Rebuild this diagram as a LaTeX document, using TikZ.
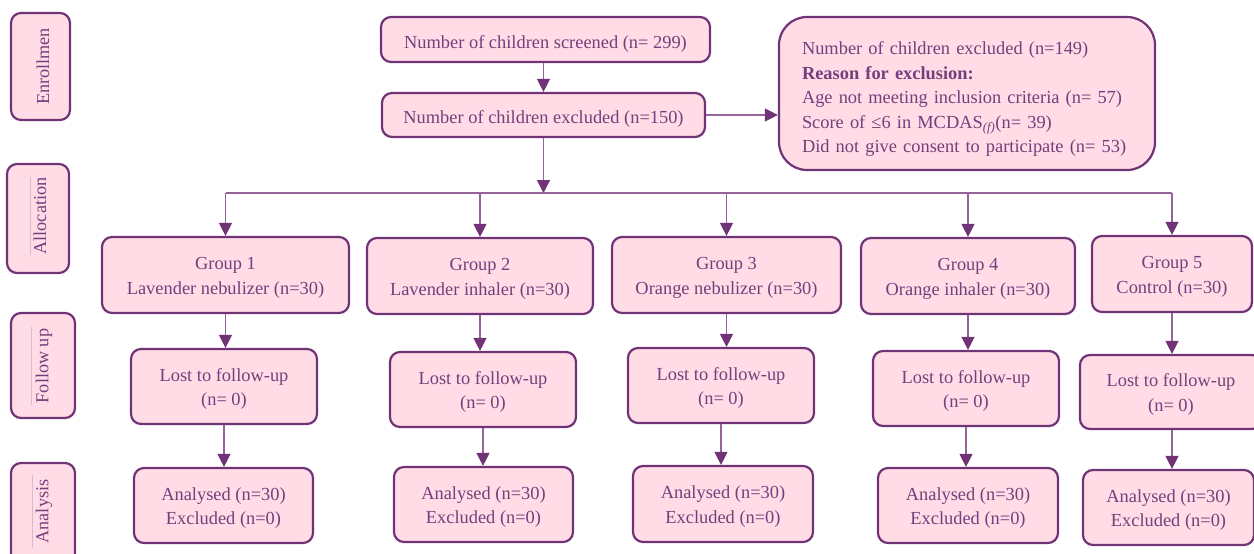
\documentclass[tikz,border=0pt]{standalone}
\usepackage{fontspec}
\setmainfont{Liberation Serif}
\usetikzlibrary{arrows.meta,calc}
\definecolor{boxfill}{RGB}{255,220,230}
\definecolor{boxdraw}{RGB}{112,52,118}
\definecolor{txt}{RGB}{118,62,124}
\definecolor{conn}{RGB}{150,100,155}
\definecolor{faint}{RGB}{210,190,210}
\newcommand\bx[6]{\node[box, minimum width={#4-#2}, minimum height={#5-#3}] (#1) at ({(#2+#4)/2},{(#3+#5)/2}) {#6};}
\newcommand\fl{\rule{0pt}{18pt}}
\begin{document}
\begin{tikzpicture}[x=1pt,y=-1pt,
  box/.style={draw=boxdraw, line width=2.2pt, fill=boxfill, rounded corners=10pt, text=txt, align=center,
    font=\fontsize{18.4}{24.5}\selectfont, inner sep=0pt},
  sidetext/.style={text=txt, font=\fontsize{18.2}{22}\selectfont, rotate=90, inner sep=0pt},
  arr/.style={draw=conn, line width=1.3pt, -{Triangle[width=13pt,length=13pt,color=boxdraw]}},
  conline/.style={draw=conn, line width=1.3pt},
  faintline/.style={draw=faint, line width=0.6pt}]
\useasboundingbox (0,0) rectangle (1254,554);
\clip (0,0) rectangle (1254,554);
% side labels
\bx{sEnr}{11}{13}{70}{120}{}
\bx{sAll}{7}{164}{69}{273}{}
\bx{sFol}{11}{313}{75}{418}{}
\bx{sAna}{11}{463}{75}{580}{}
\node[sidetext] (tEnr) at (43,66.5) {Enrollmen};
\node[sidetext] (tAll) at (40,216) {Allocation};
\node[sidetext] (tFol) at (44,366) {Follow up};
\node[sidetext] (tAna) at (44,511.5) {Analysis};
\draw[faintline] (30,177) -- (30,255);
\draw[faintline] (31,327) -- (31,405);
\draw[faintline] (32,475) -- (32,548);
% top
\bx{scr}{381}{17}{710}{62}{\rule{0pt}{21pt}Number of children screened (n= 299)}
\bx{exc}{382}{93}{705}{137}{\rule{0pt}{21pt}Number of children excluded (n=150)}
\node[box, rounded corners=28pt, minimum width=376, minimum height=153, text width=330, inner xsep=23pt, align=left]
  (rsn) at (967,93.5) {\rule{0pt}{24pt}Number of children excluded (n=149)\\
  \textbf{Reason for exclusion:}\\
  Age not meeting inclusion criteria (n= 57)\\
  Score of ≤6 in MCDAS\textsubscript{\textit{(f)}}(n= 39)\\
  Did not give consent to participate (n= 53)};
% groups
\bx{G1}{102}{237}{349}{313}{\fl Group 1\\Lavender nebulizer (n=30)}
\bx{G2}{367}{238}{593}{314}{\fl Group 2\\Lavender inhaler (n=30)}
\bx{G3}{612}{237}{841}{313}{\fl Group 3\\Orange nebulizer (n=30)}
\bx{G4}{861}{238}{1075}{314}{\fl Group 4\\Orange inhaler (n=30)}
\bx{G5}{1092}{236}{1252}{312}{\fl Group 5\\Control (n=30)}
% follow-up
\bx{F1}{131}{349}{317}{424}{\fl Lost to follow-up\\(n= 0)}
\bx{F2}{390}{352}{576}{427}{\fl Lost to follow-up\\(n= 0)}
\bx{F3}{628}{348}{814}{423}{\fl Lost to follow-up\\(n= 0)}
\bx{F4}{873}{351}{1059}{426}{\fl Lost to follow-up\\(n= 0)}
\bx{F5}{1080}{355}{1262}{429}{\fl Lost to follow-up\\(n= 0)}
% analysis
\bx{A1}{134}{468}{313}{543}{\fl Analysed (n=30)\\Excluded (n=0)}
\bx{A2}{394}{467}{573}{542}{\fl Analysed (n=30)\\Excluded (n=0)}
\bx{A3}{633}{466}{813}{542}{\fl Analysed (n=30)\\Excluded (n=0)}
\bx{A4}{878}{468}{1058}{543}{\fl Analysed (n=30)\\Excluded (n=0)}
\bx{A5}{1083}{470}{1254}{545}{\fl Analysed (n=30)\\Excluded (n=0)}
% connectors
\coordinate (bus) at (543.5,193);
\draw[arr] (scr.south -| exc.south) -- (exc.north);
\draw[arr] (exc.east) -- (exc.east -| rsn.west);
\draw[arr] (exc.south) -- (exc.south |- bus);
\draw[conline] (G1.north |- bus) -- (1172,193) coordinate (busR);
\foreach \g in {G1,G2,G3,G4}{
  \draw[arr] (\g.north |- bus) -- (\g.north);
}
\draw[arr] (busR) -- (busR |- G5.north);
\foreach \g/\f in {G1/F1,G2/F2,G3/F3,G4/F4}{
  \draw[arr] (\g.south) -- (\g.south |- \f.north);
}
\draw[arr] (busR |- G5.south) -- (busR |- F5.north);
\foreach \f/\a in {F1/A1,F2/A2,F3/A3,F4/A4}{
  \draw[arr] (\f.south) -- (\f.south |- \a.north);
}
\draw[arr] (busR |- F5.south) -- (busR |- A5.north);
\end{tikzpicture}
\end{document}
